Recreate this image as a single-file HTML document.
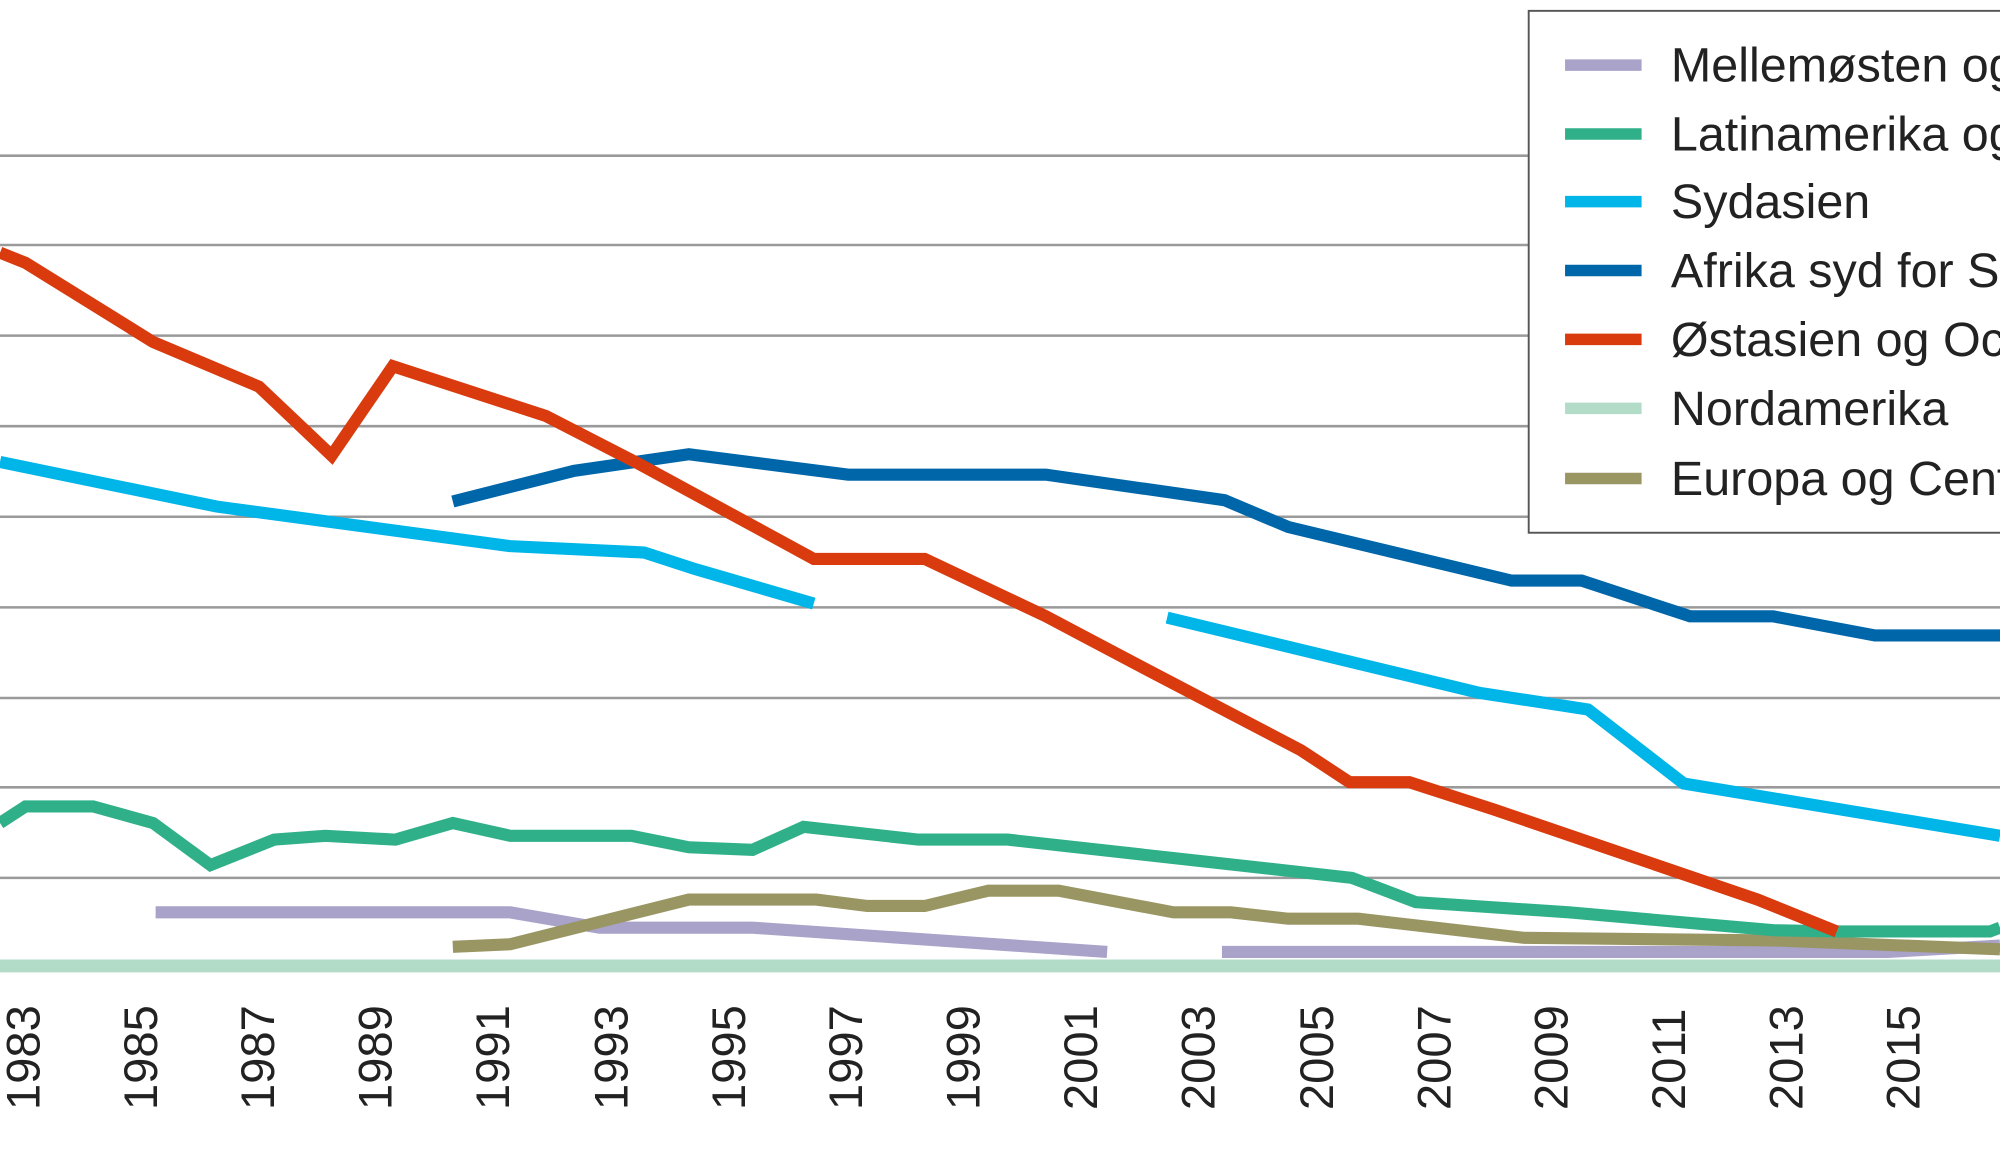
<!DOCTYPE html>
<html><head><meta charset="utf-8"><style>
html,body{margin:0;padding:0;background:#fff;overflow:hidden}
svg{display:block}
text{font-family:"Liberation Sans",sans-serif;fill:#222}
</style></head><body>
<svg width="2000" height="1165" viewBox="0 0 1568 913" preserveAspectRatio="none">
<g stroke="#9a9a9a" stroke-width="2">
<line x1="0" y1="122" x2="1568" y2="122"/><line x1="0" y1="192" x2="1568" y2="192"/>
<line x1="0" y1="263" x2="1568" y2="263"/><line x1="0" y1="334" x2="1568" y2="334"/>
<line x1="0" y1="405" x2="1568" y2="405"/><line x1="0" y1="476" x2="1568" y2="476"/>
<line x1="0" y1="547" x2="1568" y2="547"/><line x1="0" y1="617" x2="1568" y2="617"/>
<line x1="0" y1="688" x2="1568" y2="688"/>
</g>
<g fill="none" stroke-width="9.5" stroke-linejoin="miter">
<polyline stroke="#b2dcc8" stroke-width="10" points="0,757 1568,757"/>
<polyline stroke="#a9a2c9" points="122,715 400,715 470,727 590,727 868,746"/>
<polyline stroke="#a9a2c9" points="958,746 1480,746 1568,741"/>
<polyline stroke="#9a9664" points="355,742 400,740 540,705 640,705 680,710 725,710 775,698 830,698 920,715 965,715 1010,720 1065,720 1195,735 1390,737 1568,744"/>
<polyline stroke="#2fb089" points="0,645 20,632 73,632 120,645 165,678 215,658 255,655 310,658 355,645 400,655 495,655 540,664 590,666 630,648 720,658 790,658 1060,688 1110,707 1230,715 1390,729 1440,730 1560,730 1568,727"/>
<polyline stroke="#00b5e8" points="0,362 170,397 400,428 505,433 545,446 638,473"/>
<polyline stroke="#00b5e8" points="915,484 1160,543 1245,556 1320,614 1568,655"/>
<polyline stroke="#0066aa" points="355,393 450,369 540,356 665,372 820,372 960,392 1010,413 1185,455 1240,455 1325,483 1390,483 1470,498 1568,498"/>
<polyline stroke="#d93a0e" points="0,198 20,206 120,268 203,303 260,357 308,287 428,326 500,363 638,438 725,438 820,483 890,520 1020,588 1058,613 1105,613 1170,634 1378,705 1440,730"/>
</g>
<rect x="1198.5" y="8.5" width="400" height="409" fill="#fff" stroke="#555" stroke-width="1.5"/>
<g stroke-width="9">
<line x1="1227" y1="51" x2="1287" y2="51" stroke="#a9a2c9"/>
<line x1="1227" y1="105" x2="1287" y2="105" stroke="#2fb089"/>
<line x1="1227" y1="158" x2="1287" y2="158" stroke="#00b5e8"/>
<line x1="1227" y1="212" x2="1287" y2="212" stroke="#0066aa"/>
<line x1="1227" y1="266" x2="1287" y2="266" stroke="#d93a0e"/>
<line x1="1227" y1="320" x2="1287" y2="320" stroke="#b2dcc8"/>
<line x1="1227" y1="375" x2="1287" y2="375" stroke="#9a9664"/>
</g>
<g font-size="38">
<text x="1310" y="64">Mellemøsten og Nordafrika</text>
<text x="1310" y="118">Latinamerika og Caribien</text>
<text x="1310" y="171">Sydasien</text>
<text x="1310" y="225">Afrika syd for Sahara</text>
<text x="1310" y="279">Østasien og Oceanien</text>
<text x="1310" y="333">Nordamerika</text>
<text x="1310" y="388">Europa og Centralasien</text>
</g>
<g font-size="37" text-anchor="start">
<text transform="translate(31,870) rotate(-90)">1983</text>
<text transform="translate(123,870) rotate(-90)">1985</text>
<text transform="translate(215,870) rotate(-90)">1987</text>
<text transform="translate(307,870) rotate(-90)">1989</text>
<text transform="translate(399,870) rotate(-90)">1991</text>
<text transform="translate(492,870) rotate(-90)">1993</text>
<text transform="translate(584,870) rotate(-90)">1995</text>
<text transform="translate(676,870) rotate(-90)">1997</text>
<text transform="translate(768,870) rotate(-90)">1999</text>
<text transform="translate(860,870) rotate(-90)">2001</text>
<text transform="translate(952,870) rotate(-90)">2003</text>
<text transform="translate(1045,870) rotate(-90)">2005</text>
<text transform="translate(1137,870) rotate(-90)">2007</text>
<text transform="translate(1229,870) rotate(-90)">2009</text>
<text transform="translate(1321,870) rotate(-90)">2011</text>
<text transform="translate(1413,870) rotate(-90)">2013</text>
<text transform="translate(1505,870) rotate(-90)">2015</text>
</g>
</svg>
</body></html>
